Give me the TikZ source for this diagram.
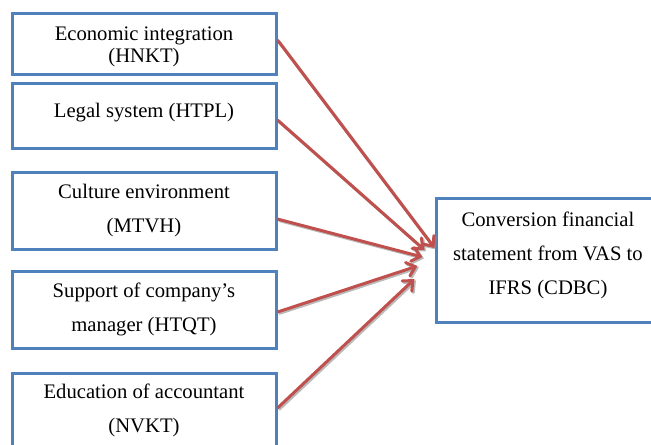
\documentclass[tikz,border=0pt]{standalone}
\usepackage{fontspec}
\setmainfont{Liberation Serif}
\usetikzlibrary{arrows.meta}
\definecolor{boxblue}{HTML}{4F81BD}
\definecolor{arrowred}{HTML}{C0504D}
% centred text block; #1 sets the row spacing, rows split with \\
\newcommand\stackedtext[2]{{\def\arraystretch{#1}\begin{tabular}[t]{@{}c@{}}#2\end{tabular}}}
\begin{document}
\begin{tikzpicture}[x=0.75pt,y=-0.75pt,
  factor/.style={draw=boxblue,line width=2.25pt,fill=white,inner sep=0pt,
    minimum width=198pt},
  boxlabel/.style={anchor=base,inner sep=0pt,font=\fontsize{15.5pt}{16.5pt}\selectfont},
  link/.style={draw=arrowred,line width=2.25pt,
    -{Straight Barb[length=6pt,width=10.5pt,line cap=round]}},
  linkshadow/.style={draw=black!45,opacity=0.6,line width=2.25pt,
    -{Straight Barb[length=6pt,width=10.5pt,line cap=round]},
    transform canvas={shift={(1.1pt,-1.1pt)}}}]
\useasboundingbox (0,0) rectangle (651,444);
\clip (0,0) rectangle (651,444);

% factor boxes
\node[factor,minimum height=45.75pt] (b1) at (144,43.5) {};
\node[factor,minimum height=48.75pt] (b2) at (144,115.5) {};
\node[factor,minimum height=57.75pt] (b3) at (144,210.5) {};
\node[factor,minimum height=57.75pt] (b4) at (144,309.5) {};
\node[factor,minimum height=57.75pt] (b5) at (144,411.5) {};
% outcome box
\node[factor,minimum width=172.5pt,minimum height=93pt] (out) at (551,260) {};

% labels
\node[boxlabel] (t1) at (144,40) {\stackedtext{1}{Economic integration\\(HNKT)}};
\node[boxlabel] (t2) at (144,117) {\stackedtext{1}{Legal system (HTPL)}};
\node[boxlabel] (t3) at (144,198) {\stackedtext{1.59}{Culture environment\\(MTVH)}};
\node[boxlabel] (t4) at (144,297) {\stackedtext{1.59}{Support of company’s\\manager (HTQT)}};
\node[boxlabel] (t5) at (144,398) {\stackedtext{1.59}{Education of accountant\\(NVKT)}};
\node[boxlabel] (t6) at (548,226) {\stackedtext{1.56}{Conversion financial\\statement from VAS to\\IFRS (CDBC)}};

% arrow end points
\coordinate (s1) at ([yshift=2.6pt]b1.east);
\coordinate (s2) at ([yshift=-3.4pt]b2.east);
\coordinate (s3) at ([yshift=-6.4pt]b3.east);
\coordinate (s4) at ([yshift=-1.9pt]b4.east);
\coordinate (s5) at ([yshift=2.6pt]b5.east);
\coordinate (e1) at ([yshift=9pt]out.west);
\coordinate (e2) at ([xshift=-7.5pt,yshift=7.5pt]out.west);
\coordinate (e3) at ([xshift=-9pt,yshift=2.25pt]out.west);
\coordinate (e4) at ([xshift=-12.75pt,yshift=-4.5pt]out.west);
\coordinate (e5) at ([xshift=-15pt,yshift=-14.25pt]out.west);

% arrows with soft shadow
\foreach \i in {1,...,5}{
  \draw[linkshadow] (s\i) -- (e\i);
}
\foreach \i in {1,...,5}{
  \draw[link] (s\i) -- (e\i);
}
\end{tikzpicture}
\end{document}
